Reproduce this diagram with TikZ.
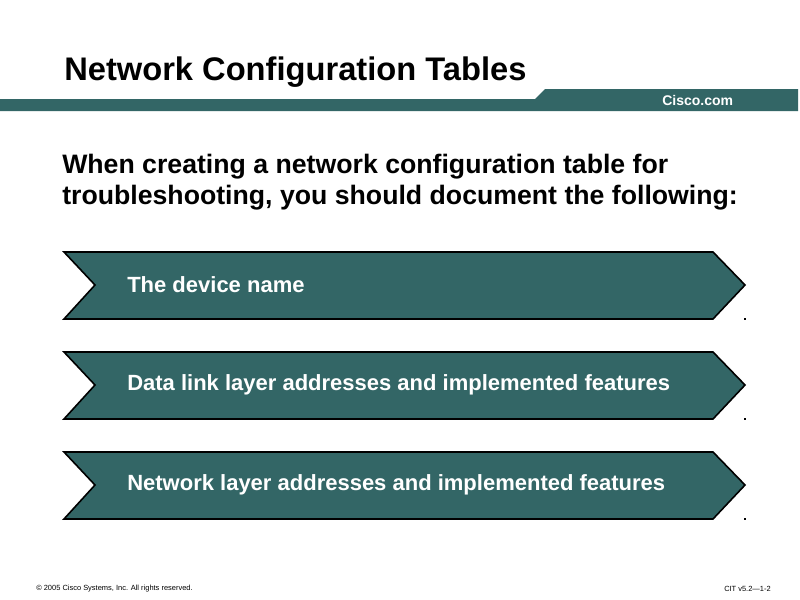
\documentclass[tikz,border=0pt]{standalone}
\usepackage{fontspec}
\setmainfont{Liberation Sans}
\begin{document}
\begin{tikzpicture}[x=0.75pt,y=-0.75pt,
  bar/.style={fill=ciscoteal,draw=none},
  chev/.style={fill=ciscoteal,draw=black,line width=1.2pt,line join=miter},
  chevtext/.style={anchor=west,text=white,font=\bfseries\fontsize{16.5}{18}\selectfont},
  dotmark/.style={fill=black,inner sep=0pt,minimum size=1.5pt}]
\definecolor{ciscoteal}{HTML}{336666}
\useasboundingbox (0,0) rectangle (800,600);
\fill[white] (0,0) rectangle (800,600);
\node[anchor=west,inner sep=0pt,font=\bfseries\fontsize{24.5}{28}\selectfont] (title) at (64,72) {Network Configuration Tables};
\fill[bar] (0,99) -- (535,99) -- (545,89) -- (798,89) -- (798,111) -- (0,111) -- cycle;
\node[anchor=west,inner sep=0pt,text=white,font=\bfseries\fontsize{10.5}{12}\selectfont] (cisco) at (662,100) {Cisco.com};
\node[anchor=west,inner sep=0pt,align=left,font=\bfseries\fontsize{20}{23.5}\selectfont] (intro) at (62,182)
  {When creating a network configuration table for\\troubleshooting, you should document the following:};
\foreach \y/\t [count=\i] in {252/The device name,352/Data link layer addresses and implemented features,452/Network layer addresses and implemented features}{
  \draw[chev] (64,\y) -- (713,\y) -- (745,\y+33) -- (713,\y+67) -- (64,\y+67) -- (95,\y+33) -- cycle;
  \node[chevtext,inner sep=0pt] (c\i) at (127,\y+33) {\t};
  \node[dotmark] (d\i) at (745,\y+67) {};
}
\node[anchor=west,inner sep=0pt,font=\fontsize{5.6}{6}\selectfont] (copy) at (36,589) {© 2005 Cisco Systems, Inc. All rights reserved.};
\node[anchor=east,inner sep=0pt,font=\fontsize{5.6}{6}\selectfont] (cit) at (771,589) {CIT v5.2—1-2};
\end{tikzpicture}
\end{document}
